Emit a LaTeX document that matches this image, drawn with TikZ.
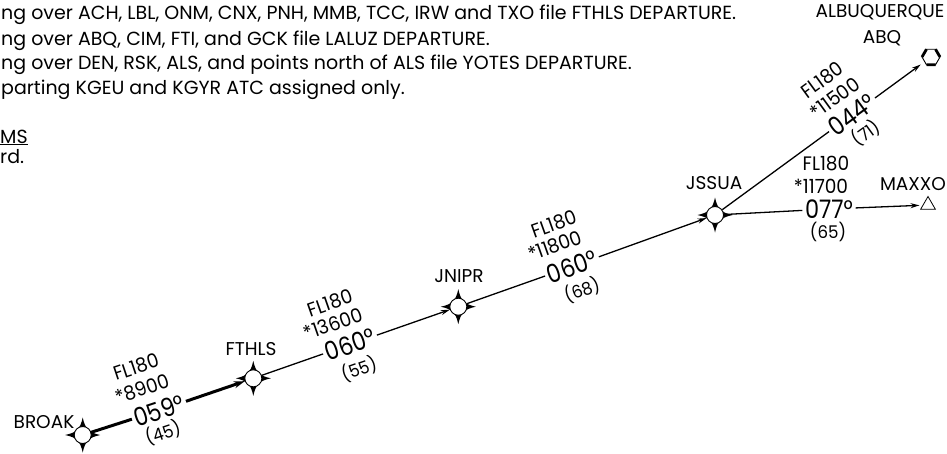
\documentclass[tikz,border=0pt]{standalone}
\usepackage{fontspec}
\setmainfont{Poppins}
\newfontfamily\narrowfont[FakeStretch=0.95]{Poppins}
\newfontfamily\hdgfont[FakeStretch=0.88]{Poppins}
\usetikzlibrary{arrows.meta,shapes.geometric}
\tikzset{
  wp/.style={circle,draw,line width=0.9pt,fill=white,minimum size=17pt,inner sep=0pt},
  wname/.style={font=\fontsize{18.5}{18.5}\selectfont,inner sep=0pt},
  lbl/.style={font=\narrowfont\fontsize{19.5}{19.5}\selectfont,inner sep=0pt},
  dist/.style={font=\narrowfont\fontsize{17.5}{17.5}\selectfont,inner sep=0pt},
  hdg/.style={font=\hdgfont\fontsize{25.5}{25.5}\selectfont,inner sep=2.5pt},
  leg/.style={line width=1.3pt},
  legarrow/.style={leg,-{Stealth[length=9pt,width=5pt]}},
  thickleg/.style={line width=3pt},
  thickarrow/.style={thickleg,-{Stealth[length=11pt,width=7pt]}},
  note/.style={font=\fontsize{19}{19}\selectfont,anchor=base west,inner sep=0pt},
}
\newcommand\wpspikes[1]{\fill[black,shift={(#1)}] (0,-17.5) .. controls (2.5,-6) and (6,-2.5) .. (17.5,0) .. controls (6,2.5) and (2.5,6) .. (0,17.5) .. controls (-2.5,6) and (-6,2.5) .. (-17.5,0) .. controls (-6,-2.5) and (-2.5,-6) .. (0,-17.5) -- cycle;}
\begin{document}
\begin{tikzpicture}[x=1pt,y=-1pt]
\useasboundingbox (0,0) rectangle (947,453);
% notes
\node[note] (n1) at (1,19.5) {ng over ACH, LBL, ONM, CNX, PNH, MMB, TCC, IRW and TXO file FTHLS DEPARTURE.};
\node[note] (n2) at (1,45) {ng over ABQ, CIM, FTI, and GCK file LALUZ DEPARTURE.};
\node[note] (n3) at (1,69.5) {ng over DEN, RSK, ALS, and points north of ALS file YOTES DEPARTURE.};
\node[note] (n4) at (1,94) {parting KGEU and KGYR ATC assigned only.};
\node[note] (n5) at (0,143) {\underline{MS}};
\node[note] (n6) at (0,163) {rd.};
% waypoints
\wpspikes{82.7,435}
\node[wp] (broak) at (82.7,435) {};
\wpspikes{253.3,378.3}
\node[wp] (fthls) at (253.3,378.3) {};
\wpspikes{458.3,306.7}
\node[wp] (jnipr) at (458.3,306.7) {};
\wpspikes{715,215}
\node[wp] (jssua) at (715,215) {};
\node[circle,inner sep=0pt,minimum size=19pt] (abq) at (931,57) {};
\draw[line width=0.9pt] (940,57) -- (935.5,49.2) -- (926.5,49.2) -- (922,57) -- (926.5,64.8) -- (935.5,64.8) -- cycle;
\draw[line width=2.8pt] (940,57) -- (935.5,49.2) (926.5,49.2) -- (922,57) (926.5,64.8) -- (935.5,64.8);
\node[regular polygon,regular polygon sides=3,draw,line width=0.8pt,minimum size=17pt,inner sep=0pt] (maxxo) at (928,205) {};
% names
\node[wname] (tbroak) at (44,422) {BROAK};
\node[wname] (tfthls) at (251,349) {FTHLS};
\node[wname] (tjnipr) at (459,276) {JNIPR};
\node[wname] (tjssua) at (714,183) {JSSUA};
\node[wname] (tmaxxo) at (913,184) {MAXXO};
\node[wname] (talb) at (880,12) {ALBUQUERQUE};
\node[wname] (tabq) at (882,38) {ABQ};
% segment 1
\node[lbl,rotate=18.4] (a1) at (136,367) {FL180};
\node[lbl,rotate=18.4] (b1) at (142,389) {*8900};
\node[hdg,rotate=18.4] (h1) at (159,410.5) {059°};
\node[dist,rotate=18.4] (d1) at (163,433) {(45)};
\draw[thickleg] (broak) -- (h1);
\draw[thickarrow] (h1) -- (fthls);
% segment 2
\node[lbl,rotate=19.3] (a2) at (330,303) {FL180};
\node[lbl,rotate=19.3] (b2) at (333,324) {*13600};
\node[hdg,rotate=19.3] (h2) at (350,344.5) {060°};
\node[dist,rotate=19.3] (d2) at (359,369) {(55)};
\draw[leg] (fthls) -- (h2);
\draw[legarrow] (h2) -- (jnipr);
% segment 3
\node[lbl,rotate=19.7] (a3) at (554,224) {FL180};
\node[lbl,rotate=19.7] (b3) at (555,246) {*11800};
\node[hdg,rotate=19.7] (h3) at (572,266.5) {060°};
\node[dist,rotate=19.7] (d3) at (582,290) {(68)};
\draw[leg] (jnipr) -- (h3);
\draw[legarrow] (h3) -- (jssua);
% segment 4
\node[lbl,rotate=36] (a4) at (822,80) {FL180};
\node[lbl,rotate=36] (b4) at (835,98) {*11500};
\node[hdg,rotate=36] (h4) at (852,114.8) {044°};
\node[dist,rotate=36] (d4) at (866,133) {(71)};
\draw[leg] (jssua) -- (h4);
\draw[legarrow,shorten >=3pt] (h4) -- (abq);
% segment 5
\node[lbl] (a5) at (826,164) {FL180};
\node[lbl] (b5) at (821,186) {*11700};
\node[hdg] (h5) at (829,209) {077°};
\node[dist] (d5) at (828,232) {(65)};
\draw[leg] (jssua) -- (h5);
\draw[legarrow,shorten >=3pt] (h5) -- (maxxo);
\end{tikzpicture}
\end{document}
